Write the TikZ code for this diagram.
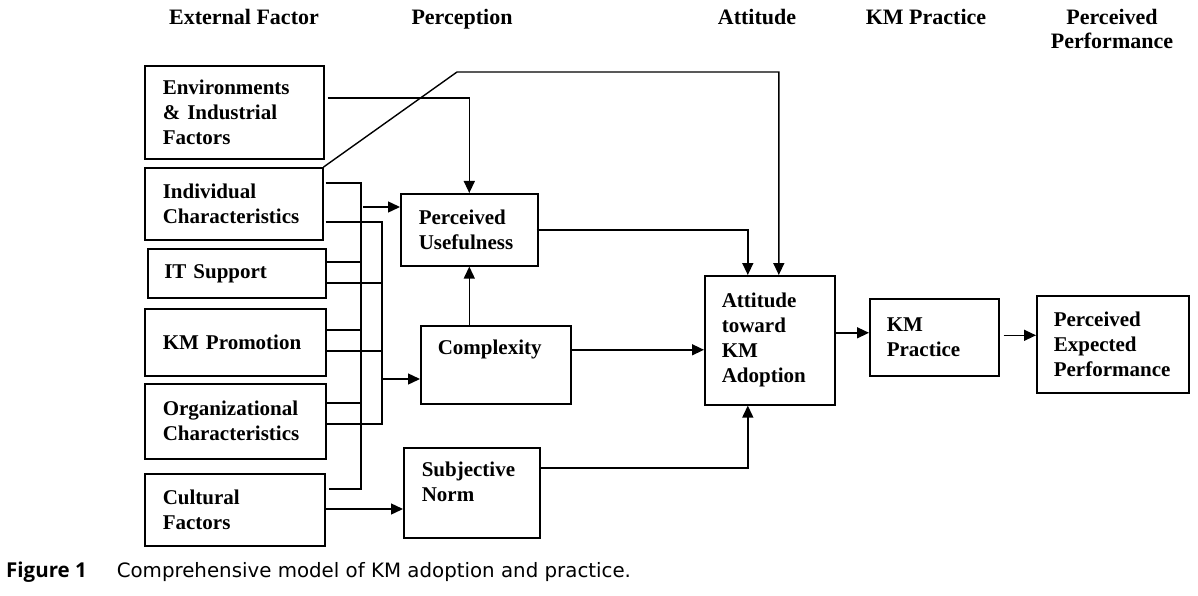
\documentclass[tikz,border=0pt]{standalone}
\usepackage{fontspec}
\setmainfont{Liberation Serif}
\newfontfamily\capfont{DejaVu Sans}
\newfontfamily\capbold{Open Sans}
\usetikzlibrary{arrows.meta,calc}
\tikzset{
  box/.style={draw, line width=1.6pt, inner sep=0pt, align=left, anchor=north west,
    font=\fontsize{21}{25}\selectfont\bfseries},
  hdr/.style={inner sep=0pt, anchor=base, align=center,
    font=\fontsize{22}{24}\selectfont\bfseries},
  ln/.style={line width=1.4pt},
  arr/.style={ln, -{Triangle[length=12pt,width=11pt]}}
}
\begin{document}
\begin{tikzpicture}[x=1pt,y=-1pt]
\useasboundingbox (0,0) rectangle (1198,596);
% headers
\node[hdr] (h1) at (244,25) {External Factor};
\node[hdr] (h2) at (462,25) {Perception};
\node[hdr] (h3) at (757,25) {Attitude};
\node[hdr] (h4) at (926,25) {KM Practice};
\node[hdr] (h5) at (1112,49) {Perceived\\Performance};
% external factor boxes
\node[box, minimum width=179pt, minimum height=93pt, text width=143pt] (env) at (144,65) {Environments\\\& Industrial\\Factors};
\node[box, minimum width=178pt, minimum height=72pt, text width=142pt] (ind) at (144,167) {Individual\\Characteristics};
\node[box, minimum width=178pt, minimum height=49pt, text width=145pt] (it) at (147,248) {IT Support};
\node[box, minimum width=181pt, minimum height=67pt, text width=145pt] (kmp) at (144,308) {KM Promotion};
\node[box, minimum width=181pt, minimum height=75pt, text width=145pt] (org) at (144,383) {Organizational\\Characteristics};
\node[box, minimum width=180pt, minimum height=72pt, text width=144pt] (cul) at (144,473) {Cultural\\Factors};
% perception boxes
\node[box, minimum width=137pt, minimum height=72pt, text width=101pt] (pu) at (400,193) {Perceived\\Usefulness};
\node[box, minimum width=150pt, minimum height=78pt, text width=116pt] (cx) at (420,325) {Complexity\rule[-36pt]{0pt}{36pt}};
\node[box, minimum width=136pt, minimum height=90pt, text width=100pt] (sn) at (403,447) {Subjective\\Norm\rule[-22pt]{0pt}{22pt}};
% right boxes
\node[box, minimum width=130pt, minimum height=129pt, text width=96pt] (att) at (704,275) {Attitude\\toward\\KM\\Adoption};
\node[box, minimum width=129pt, minimum height=77pt, text width=95pt] (kmpr) at (869,298) {KM\\Practice};
\node[box, minimum width=152pt, minimum height=97pt, text width=118pt] (pep) at (1036,295) {Perceived\\Expected\\Performance};
% caption
\node[inner sep=0pt, anchor=base west, font=\capfont\fontsize{19.8}{23}\selectfont] (cap) at (6,577)
  {{\capbold\fontsize{20.5}{23}\selectfont\bfseries Figure 1}\hspace{30pt}Comprehensive model of KM adoption and practice.};
% named points
\coordinate (b1) at (361,0);
\coordinate (b2) at (382,0);
\coordinate (bend) at (457,72);
\coordinate (i1) at ($(ind.north east)+(2,16)$);
\coordinate (i2) at ($(ind.north east)+(2,55)$);
\coordinate (t1) at ($(it.north east)+(0,14)$);
\coordinate (t2) at ($(it.north east)+(0,35)$);
\coordinate (k1) at ($(kmp.north east)+(0,22)$);
\coordinate (k2) at ($(kmp.north east)+(0,43)$);
\coordinate (o1) at ($(org.north east)+(0,20)$);
\coordinate (o2) at ($(org.north east)+(0,41)$);
\coordinate (c1) at ($(cul.north east)+(3,16)$);
\coordinate (c2) at ($(cul.north east)+(0,36)$);
\coordinate (pin) at ($(pu.north west)+(0,14)$);
\coordinate (cin) at ($(cx.north west)+(0,54)$);
% buses
\draw[ln] (i1) -| (b1 |- c1) -- (c1);
\draw[ln] (i2) -| (b2 |- o2) -- (o2);
\draw[ln] (t1) -- (b1 |- t1);
\draw[ln] (t2) -- (b2 |- t2);
\draw[ln] (k1) -- (b1 |- k1);
\draw[ln] (k2) -- (b2 |- k2);
\draw[ln] (o1) -- (b1 |- o1);
\draw[arr] ([xshift=2pt]b1 |- pin) -- (pin);
\draw[arr] (b2 |- cin) -- (cin);
\draw[arr] (c2) -- (c2 -| sn.west);
% perception connectors
\draw[arr] ($(env.north east)+(3,33)$) -| (pu.north);
\draw[arr] (cx.north -| pu.south) -- (pu.south);
\draw[arr] (ind.north east) -- (bend) -| ([xshift=9pt]att.north);
\draw[arr] ([xshift=-2pt]pu.east) -| ([xshift=-22pt]att.north);
\draw[arr] ([yshift=15pt]cx.east) -- ([yshift=15pt]cx.east -| att.west);
\draw[arr] ([yshift=25pt]sn.east) -| ([xshift=-22pt]att.south);
\draw[arr] ([yshift=7.5pt]att.east) -- ([yshift=7.5pt]att.east -| kmpr.west);
\draw[arr] ([xshift=4pt,yshift=2pt]kmpr.east) -- ([yshift=2pt]kmpr.east -| pep.west);
\end{tikzpicture}
\end{document}
